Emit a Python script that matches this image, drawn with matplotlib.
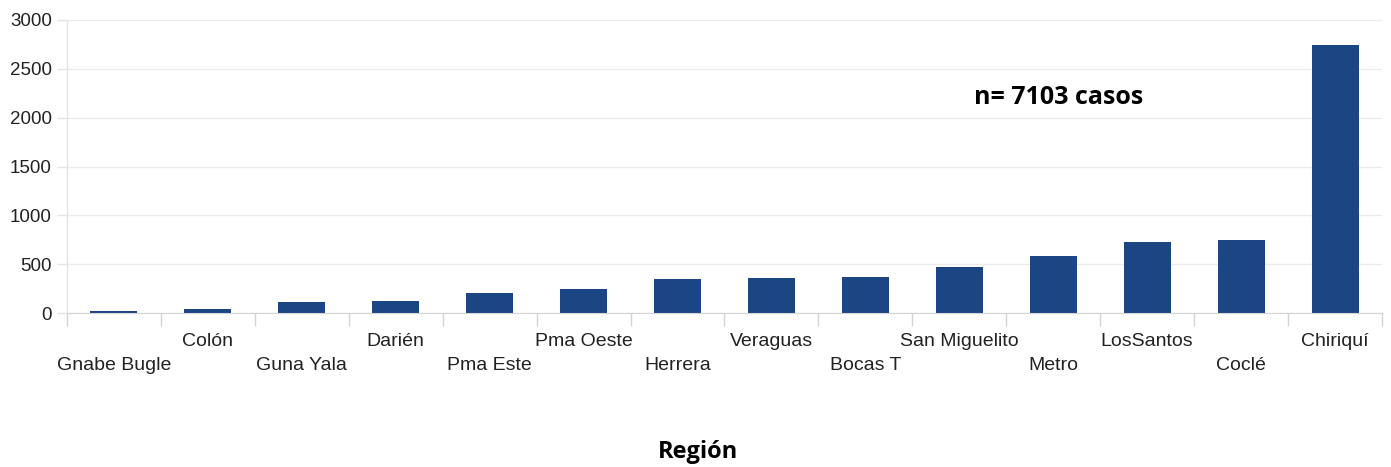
import matplotlib
matplotlib.use("Agg")
import matplotlib.pyplot as plt
import numpy as np

# cases per region
regiones = ["Gnabe Bugle", "Colón", "Guna Yala", "Darién", "Pma Este", "Pma Oeste",
            "Herrera", "Veraguas", "Bocas T", "San Miguelito", "Metro", "LosSantos",
            "Coclé", "Chiriquí"]
casos = [25, 38, 115, 122, 207, 242, 347, 357, 370, 473, 582, 728, 745, 2740]
yticks = [0, 500, 1000, 1500, 2000, 2500, 3000]

fig = plt.figure(figsize=(13.91, 4.67), dpi=100)
ax = fig.add_axes([67/1391, 1 - 313/467, (1382 - 67)/1391, 293/467])

x = np.arange(len(regiones))
ax.bar(x, casos, width=0.5, color="#1c4583", zorder=3)

ax.set_xlim(-0.5, len(regiones) - 0.5)
ax.set_ylim(0, 3000)
ax.set_yticks(yticks)
ax.yaxis.grid(True, color="#ececec", linewidth=1, zorder=0)

for s in ["top", "right", "left"]:
    ax.spines[s].set_visible(False)
ax.spines["bottom"].set_color("#d4d4d4")
ax.spines["bottom"].set_zorder(4)

# tick marks at the category boundaries, none at the centres
ax.set_xticks(np.arange(-0.5, len(regiones) + 0.5, 1))
ax.set_xticklabels([])
ax.tick_params(axis="x", length=9, color="#d4d4d4", width=1)
ax.tick_params(axis="y", length=7, color="#e4e4e4", width=1, pad=4,
               labelsize=13.5, labelcolor="#222222")
for t in ax.get_yticklabels():
    t.set_family("Liberation Sans")

# vertical line at the left edge
ax.plot([-0.5, -0.5], [0, 3000], color="#e4e4e4", linewidth=1, clip_on=False, zorder=2)

# staggered category labels
for i, lbl in enumerate(regiones):
    off = -52 if i % 2 == 0 else -28
    ax.annotate(lbl, (i, 0), xycoords=("data", "axes fraction"),
                xytext=(0, off), textcoords="offset pixels",
                ha="center", va="center", fontsize=14, color="#222222",
                family="Liberation Sans")

ax.text(9.16, 2210, "n= 7103 casos", fontsize=18, fontweight="bold",
        family="Open Sans", ha="left", va="center", color="black")

fig.text(698/1391, 1 - 452/467, "Región", fontsize=17, fontweight="bold",
         family="Open Sans", ha="center", va="center", color="black")

fig.savefig("out.png", dpi=100)
